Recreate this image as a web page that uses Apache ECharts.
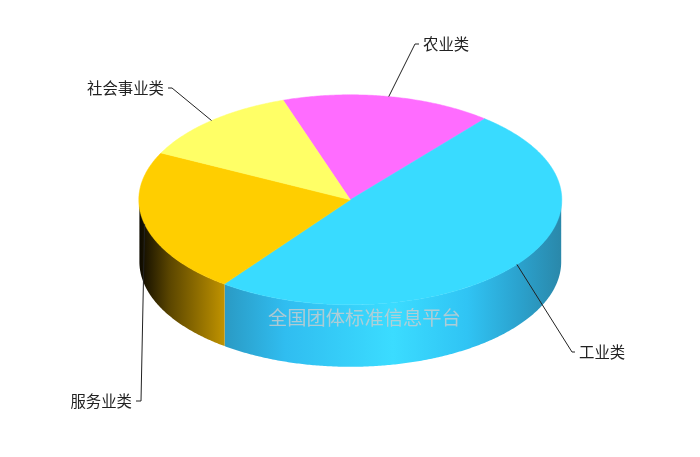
<!DOCTYPE html>
<html>
<head>
<meta charset="utf-8">
<style>html,body{margin:0;padding:0;background:#fff}#c{width:700px;height:457px}</style>
<script src="https://cdn.jsdelivr.net/npm/echarts@6/dist/echarts.min.js"></script>
</head>
<body>
<div id="c"></div>
<script>
// Data
var categories = ['农业类', '工业类', '服务业类', '社会事业类'];
var shares = [16.1, 49.2, 22.2, 12.5];
var colors = ['#ff6cff', '#39dbff', '#ffce00', '#ffff66'];
var watermarkText = '全国团体标准信息平台';

// Layout
var pie = { cx: 350.3, cy: 199.8, rx: 211.5, ry: 105, depth: 62, wallInset: 0.6, start: 341.5 };
var labelLayout = [
  { knee: [415, 44], end: [419, 44], text: [423, 44], align: 'left' },
  { knee: [572, 352], end: [575, 352], text: [579, 352], align: 'left' },
  { knee: [141, 401], end: [136, 401], text: [132, 401], align: 'right' },
  { knee: [172, 88], end: [168, 88], text: [164, 88], align: 'right' }
];
function stops(list) { return list.map(function (s) { return { offset: s[0], color: s[1] }; }); }
var sideStops = [
  null,
  stops([[0, '#2a9ac4'], [0.18, '#30bdf0'], [0.5, '#3bdcff'], [0.72, '#30c4f4'], [0.87, '#2ba3cf'], [1, '#2a88aa']]),
  stops([[0, '#0c0900'], [0.35, '#5a4500'], [1, '#c09300']]),
  null
];

var total = shares.reduce(function (a, b) { return a + b; }, 0);
var sliceAngles = [];
var acc = pie.start;
shares.forEach(function (v) {
  var sweep = v / total * 360;
  sliceAngles.push([acc, acc + sweep]);
  acc += sweep;
});

function pt(deg, dy, inset) {
  var r = deg * Math.PI / 180;
  return [pie.cx + (pie.rx - (inset || 0)) * Math.sin(r), pie.cy - pie.ry * Math.cos(r) + (dy || 0)];
}
function arc(a0, a1, dy, inset) {
  var n = Math.max(2, Math.ceil(Math.abs(a1 - a0) * 2));
  var out = [];
  for (var i = 0; i <= n; i++) out.push(pt(a0 + (a1 - a0) * i / n, dy, inset));
  return out;
}
// visible part of the outer wall: front half, 90..270 degrees clockwise from top
function wallRange(a0, a1) {
  var s = Math.max(a0 % 360, 90), e = Math.min(a0 % 360 + (a1 - a0), 270);
  return e > s ? [s, e] : null;
}

function renderItem(params, api) {
  var i = params.dataIndex;
  var a = sliceAngles[i];
  var children = [];
  var wall = wallRange(a[0], a[1]);
  if (wall && sideStops[i]) {
    var front = arc(wall[0], wall[1], 0, pie.wallInset);
    var back = arc(wall[1], wall[0], pie.depth, pie.wallInset);
    var xs = front.map(function (p) { return p[0]; });
    var x0 = Math.min.apply(null, xs), x1 = Math.max.apply(null, xs);
    // gradients run left to right on screen
    var grad = new echarts.graphic.LinearGradient(x0, 0, x1, 0, sideStops[i], true);
    children.push({ type: 'polygon', z2: 1, shape: { points: front.concat(back) },
      style: { fill: grad } });
  }
  var top = [[pie.cx, pie.cy]].concat(arc(a[0], a[1], 0));
  children.push({ type: 'polygon', z2: 2, shape: { points: top },
    style: { fill: colors[i], stroke: colors[i], lineWidth: 0.5 } });

  var l = labelLayout[i];
  var mid = pt((a[0] + a[1]) / 2, 0);
  children.push({ type: 'polyline', z2: 3, shape: { points: [mid, l.knee, l.end] },
    style: { fill: null, stroke: '#222', lineWidth: 1 } });
  children.push({ type: 'text', z2: 4, x: l.text[0], y: l.text[1],
    style: { text: categories[i], fill: '#222', fontSize: 15.4, align: l.align, verticalAlign: 'middle',
      fontFamily: '"Noto Sans CJK SC", sans-serif' } });
  return { type: 'group', children: children };
}

var chart = echarts.init(document.getElementById('c'), null, { renderer: 'canvas' });
chart.setOption({
  animation: false,
  backgroundColor: '#fff',
  graphic: [{
    type: 'text', left: 268, top: 308.5, z: 100,
    style: { text: watermarkText, fill: 'rgba(205,205,205,0.8)', fontSize: 19.3,
      fontFamily: '"Noto Sans CJK SC", sans-serif' }
  }],
  series: [{
    type: 'custom',
    coordinateSystem: 'none',
    renderItem: renderItem,
    data: categories.map(function (c, i) { return { name: c, value: shares[i] }; })
  }]
});
</script>
</body>
</html>
